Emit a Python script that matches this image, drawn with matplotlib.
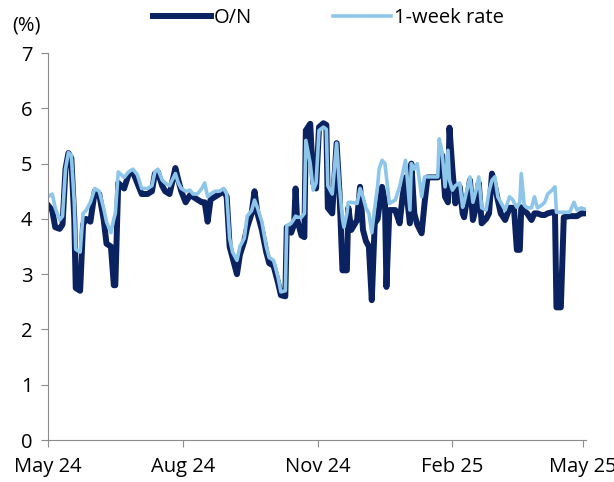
import matplotlib.pyplot as plt
import matplotlib.dates as mdates
import pandas as pd

dates = [
    "2024-05-01", "2024-05-04", "2024-05-06", "2024-05-09", "2024-05-11", "2024-05-13",
    "2024-05-15", "2024-05-17", "2024-05-19", "2024-05-20", "2024-05-23", "2024-05-25",
    "2024-05-27", "2024-05-30", "2024-06-02", "2024-06-05", "2024-06-08", "2024-06-10",
    "2024-06-13", "2024-06-15", "2024-06-16", "2024-06-18", "2024-06-20", "2024-06-22",
    "2024-06-25", "2024-06-28", "2024-07-01", "2024-07-04", "2024-07-08", "2024-07-11",
    "2024-07-13", "2024-07-15", "2024-07-18", "2024-07-20", "2024-07-23", "2024-07-27",
    "2024-07-29", "2024-07-31", "2024-08-03", "2024-08-06", "2024-08-08", "2024-08-11",
    "2024-08-14", "2024-08-16", "2024-08-18", "2024-08-20", "2024-08-23", "2024-08-26",
    "2024-08-29", "2024-08-31", "2024-09-02", "2024-09-04", "2024-09-07", "2024-09-09",
    "2024-09-12", "2024-09-14", "2024-09-17", "2024-09-19", "2024-09-21", "2024-09-24",
    "2024-09-27", "2024-09-29", "2024-10-02", "2024-10-05", "2024-10-07", "2024-10-10",
    "2024-10-11", "2024-10-14", "2024-10-16", "2024-10-17", "2024-10-18", "2024-10-21",
    "2024-10-23", "2024-10-24", "2024-10-27", "2024-10-29", "2024-10-31", "2024-11-02",
    "2024-11-05", "2024-11-07", "2024-11-08", "2024-11-11", "2024-11-14", "2024-11-16",
    "2024-11-18", "2024-11-19", "2024-11-21", "2024-11-22", "2024-11-24", "2024-11-28",
    "2024-11-30", "2024-12-02", "2024-12-04", "2024-12-06", "2024-12-08", "2024-12-10",
    "2024-12-12", "2024-12-13", "2024-12-15", "2024-12-17", "2024-12-18", "2024-12-20",
    "2024-12-24", "2024-12-27", "2024-12-29", "2024-12-31", "2025-01-01", "2025-01-03",
    "2025-01-04", "2025-01-06", "2025-01-08", "2025-01-11", "2025-01-13", "2025-01-15",
    "2025-01-22", "2025-01-23", "2025-01-25", "2025-01-27", "2025-01-29", "2025-01-30",
    "2025-02-01", "2025-02-03", "2025-02-06", "2025-02-08", "2025-02-09", "2025-02-13",
    "2025-02-15", "2025-02-17", "2025-02-19", "2025-02-21", "2025-02-24", "2025-02-26",
    "2025-02-28", "2025-03-02", "2025-03-04", "2025-03-06", "2025-03-09", "2025-03-12",
    "2025-03-14", "2025-03-15", "2025-03-17", "2025-03-19", "2025-03-20", "2025-03-22",
    "2025-03-24", "2025-03-27", "2025-03-29", "2025-03-31", "2025-04-03", "2025-04-05",
    "2025-04-07", "2025-04-10", "2025-04-12", "2025-04-13", "2025-04-16", "2025-04-18",
    "2025-04-22", "2025-04-25", "2025-04-27", "2025-04-30", "2025-05-02",
]

overnight = [
    4.25, 4.15, 3.85, 3.82, 3.90, 4.90,
    5.19, 5.10, 4.00, 2.75, 2.70, 3.90,
    4.00, 3.95, 4.50, 4.45, 4.00, 3.55,
    3.50, 2.80, 2.80, 4.65, 4.60, 4.55,
    4.80, 4.85, 4.65, 4.45, 4.45, 4.50,
    4.82, 4.85, 4.60, 4.50, 4.45, 4.92,
    4.70, 4.50, 4.30, 4.43, 4.40, 4.35,
    4.30, 4.30, 3.95, 4.35, 4.40, 4.45,
    4.50, 4.40, 3.50, 3.30, 3.00, 3.35,
    3.60, 3.85, 4.10, 4.50, 4.10, 3.80,
    3.40, 3.20, 3.15, 2.85, 2.62, 2.60,
    3.85, 3.75, 3.90, 4.55, 4.00, 3.70,
    3.67, 5.60, 5.72, 4.65, 4.55, 5.66,
    5.73, 5.70, 4.20, 4.10, 5.37, 4.45,
    3.07, 3.07, 3.07, 4.20, 3.80, 3.98,
    4.58, 3.80, 3.60, 3.50, 2.53, 3.92,
    4.00, 4.20, 4.58, 4.30, 2.77, 4.16,
    4.16, 3.92, 4.40, 4.75, 4.40, 3.92,
    5.00, 4.10, 3.90, 3.74, 4.28, 4.75,
    4.75, 4.80, 5.15, 4.40, 4.30, 5.65,
    4.90, 4.28, 4.58, 4.10, 4.03, 4.70,
    3.98, 4.20, 4.65, 3.92, 4.00, 4.10,
    4.82, 4.60, 4.34, 4.10, 3.98, 4.20,
    4.20, 4.20, 3.44, 3.44, 4.21, 4.15,
    4.10, 3.98, 4.10, 4.10, 4.07, 4.07,
    4.10, 4.12, 4.12, 2.40, 2.40, 4.03,
    4.05, 4.05, 4.05, 4.10, 4.10,
]

week_rate = [
    4.40, 4.45, 4.20, 3.98, 4.05, 4.90,
    5.20, 5.15, 4.30, 3.45, 3.40, 4.10,
    4.15, 4.30, 4.55, 4.50, 4.20, 3.95,
    3.75, 4.00, 4.10, 4.85, 4.80, 4.75,
    4.85, 4.90, 4.80, 4.55, 4.55, 4.60,
    4.85, 4.90, 4.70, 4.65, 4.60, 4.82,
    4.65, 4.55, 4.50, 4.52, 4.45, 4.45,
    4.55, 4.65, 4.40, 4.45, 4.50, 4.50,
    4.55, 4.45, 3.65, 3.40, 3.25, 3.50,
    3.65, 4.05, 4.15, 4.34, 4.20, 3.95,
    3.50, 3.30, 3.25, 2.95, 2.68, 2.70,
    3.88, 3.92, 4.00, 4.05, 4.03, 4.03,
    4.10, 5.42, 5.00, 4.52, 4.65, 5.60,
    5.66, 5.62, 4.60, 4.45, 5.37, 4.58,
    4.00, 3.85, 4.10, 4.30, 4.30, 4.28,
    4.55, 4.40, 4.20, 4.10, 3.75, 4.20,
    4.60, 4.90, 5.06, 5.00, 4.76, 4.28,
    4.34, 4.58, 4.82, 5.06, 4.80, 4.16,
    5.00, 4.90, 5.00, 4.40, 4.76, 4.76,
    4.76, 5.45, 5.20, 4.58, 5.24, 4.70,
    4.52, 4.60, 4.65, 4.21, 4.30, 4.76,
    4.30, 4.50, 4.76, 4.20, 4.16, 4.50,
    4.70, 4.76, 4.40, 4.30, 4.16, 4.40,
    4.35, 4.30, 4.21, 4.30, 4.82, 4.25,
    4.20, 4.20, 4.40, 4.20, 4.25, 4.30,
    4.45, 4.52, 4.58, 4.12, 4.12, 4.12,
    4.12, 4.30, 4.16, 4.20, 4.18,
]

tick_dates = ["2024-05-01", "2024-08-01", "2024-11-01", "2025-02-01", "2025-05-01"]

plt.rcParams["font.family"] = ["Open Sans", "DejaVu Sans"]
plt.rcParams["font.size"] = 14.5

x = pd.to_datetime(dates)
navy = "#0b2260"
light = "#8ec6ea"
grey = "#8c8c8c"

fig = plt.figure(figsize=(6.14, 4.82), dpi=100)
ax = fig.add_axes([0.078, 0.087, 0.876, 0.803])

ax.plot(x, overnight, color=navy, lw=4.3, label="O/N", solid_joinstyle="round")
ax.plot(x, week_rate, color=light, lw=2.6, label="1-week rate", solid_joinstyle="round")

ax.set_ylim(0, 7)
ax.set_yticks(range(0, 8))
ax.set_xlim(pd.Timestamp("2024-05-01"), pd.Timestamp("2025-05-03"))
ax.set_xticks(pd.to_datetime(tick_dates))
ax.xaxis.set_major_formatter(mdates.DateFormatter("%b %y"))

for side in ["top", "right"]:
    ax.spines[side].set_visible(False)
for side in ["left", "bottom"]:
    ax.spines[side].set_color(grey)
    ax.spines[side].set_linewidth(0.8)
ax.tick_params(axis="both", colors=grey, labelcolor="black", length=5, width=0.8)
ax.tick_params(axis="x", pad=7)
ax.tick_params(axis="y", pad=6)

ax.text(-0.067, 1.07, "(%)", transform=ax.transAxes, ha="left", va="center")
fig.legend(loc="center", bbox_to_anchor=(0.535, 0.963), ncol=2, frameon=False,
           handlelength=2.9, handletextpad=0.15, columnspacing=4.0)

fig.savefig("out.png", dpi=100)
